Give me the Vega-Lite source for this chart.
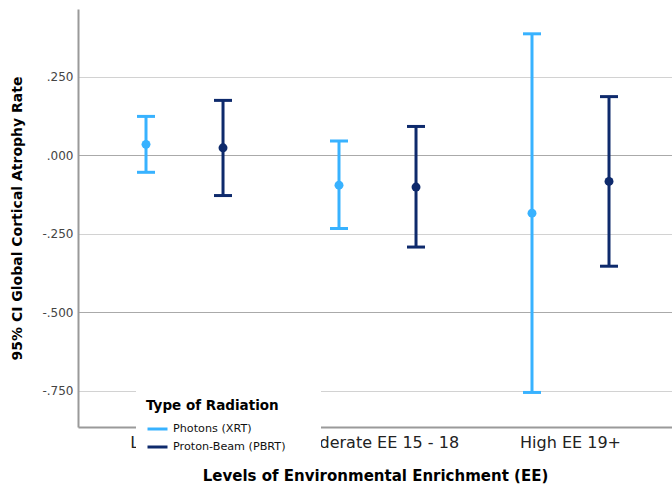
{
  "$schema": "https://vega.github.io/schema/vega-lite/v6.json",
  "width": 594,
  "height": 418,
  "autosize": {"type": "none"},
  "padding": {"left": 78, "top": 9, "right": 0, "bottom": 58},
  "background": "white",
  "config": {
    "view": {"stroke": null},
    "font": "DejaVu Sans",
    "axisY": {
      "domainColor": "#9a9a9a",
      "domainWidth": 2,
      "ticks": false,
      "labelFont": "DejaVu Sans",
      "labelFontSize": 12,
      "labelColor": "#444444",
      "labelPadding": 5,
      "titleFont": "DejaVu Sans",
      "titleFontSize": 14,
      "titleFontWeight": "bold",
      "titleColor": "#000000",
      "titleX": -61,
      "titleY": 209,
      "titleAngle": -90,
      "titleBaseline": "middle",
      "titleAlign": "center"
    },
    "axisX": {
      "domainColor": "#9a9a9a",
      "domainWidth": 2,
      "ticks": false,
      "grid": false,
      "labelAngle": 0,
      "labelFont": "DejaVu Sans",
      "labelFontSize": 16,
      "labelColor": "#222222",
      "labelPadding": 7,
      "titleFont": "DejaVu Sans",
      "titleFontSize": 15,
      "titleFontWeight": "bold",
      "titleColor": "#000000",
      "titleY": 48,
      "titleBaseline": "middle"
    }
  },
  "data": {
    "values": [
      {"level": "Low EE 0 - 14", "radiation": "Photons (XRT)", "mean": 0.034, "lower": -0.055, "upper": 0.123},
      {"level": "Low EE 0 - 14", "radiation": "Proton-Beam (PBRT)", "mean": 0.023, "lower": -0.129, "upper": 0.174},
      {"level": "Moderate EE 15 - 18", "radiation": "Photons (XRT)", "mean": -0.096, "lower": -0.234, "upper": 0.045},
      {"level": "Moderate EE 15 - 18", "radiation": "Proton-Beam (PBRT)", "mean": -0.102, "lower": -0.293, "upper": 0.091},
      {"level": "High EE 19+", "radiation": "Photons (XRT)", "mean": -0.185, "lower": -0.756, "upper": 0.386},
      {"level": "High EE 19+", "radiation": "Proton-Beam (PBRT)", "mean": -0.084, "lower": -0.354, "upper": 0.186}
    ]
  },
  "encoding": {
    "x": {
      "field": "level",
      "type": "nominal",
      "sort": ["Low EE 0 - 14", "Moderate EE 15 - 18", "High EE 19+"],
      "scale": {"paddingInner": 0, "paddingOuter": 0.0389, "align": 0.667},
      "title": "Levels of Environmental Enrichment (EE)"
    },
    "xOffset": {
      "field": "radiation",
      "type": "nominal",
      "sort": ["Photons (XRT)", "Proton-Beam (PBRT)"],
      "scale": {"paddingInner": 0, "paddingOuter": 0.253}
    }
  },
  "layer": [
    {
      "mark": {"type": "rule", "strokeWidth": 3},
      "encoding": {
        "y": {
          "field": "lower", "type": "quantitative",
          "scale": {"domain": [-0.866, 0.465], "nice": false, "zero": false},
          "title": "95% CI Global Cortical Atrophy Rate",
          "axis": {
            "values": [-0.75, -0.5, -0.25, 0, 0.25],
            "labelExpr": "replace(replace(format(datum.value, '.3f'), '0.', '.'), '\u2212', '-')",
            "gridColor": {"condition": {"test": "datum.value === 0 || datum.value === -0.5", "value": "#aaaaaa"}, "value": "#d2d2d2"},
            "gridWidth": 1.2
          }
        },
        "y2": {"field": "upper"},
        "color": {
          "field": "radiation", "type": "nominal",
          "scale": {"domain": ["Photons (XRT)", "Proton-Beam (PBRT)"], "range": ["#38b2ff", "#0e2a6c"]},
          "legend": {
            "title": "Type of Radiation",
            "orient": "none",
            "legendX": 58,
            "legendY": 380,
            "fillColor": "white",
            "padding": 10,
            "titleFont": "DejaVu Sans",
            "titleFontSize": 13.5,
            "titleFontWeight": "bold",
            "titleColor": "#000000",
            "titlePadding": 5,
            "labelFont": "DejaVu Sans",
            "labelFontSize": 11.2,
            "labelColor": "#111111",
            "labelOffset": 4,
            "labelExpr": "datum.label + '\u2800\u2800\u2800'",
            "symbolType": "stroke",
            "symbolSize": 400,
            "symbolStrokeWidth": 3,
            "rowPadding": -12
          }
        }
      }
    },
    {
      "mark": {"type": "tick", "thickness": 3, "size": 18, "opacity": 1},
      "encoding": {
        "y": {"field": "upper", "type": "quantitative", "scale": {"domain": [-0.866, 0.465], "nice": false, "zero": false}, "title": "95% CI Global Cortical Atrophy Rate"},
        "color": {"field": "radiation", "type": "nominal", "legend": null}
      }
    },
    {
      "mark": {"type": "tick", "thickness": 3, "size": 18, "opacity": 1},
      "encoding": {
        "y": {"field": "lower", "type": "quantitative", "scale": {"domain": [-0.866, 0.465], "nice": false, "zero": false}, "title": "95% CI Global Cortical Atrophy Rate"},
        "color": {"field": "radiation", "type": "nominal", "legend": null}
      }
    },
    {
      "mark": {"type": "point", "filled": true, "size": 80, "opacity": 1},
      "encoding": {
        "y": {"field": "mean", "type": "quantitative", "scale": {"domain": [-0.866, 0.465], "nice": false, "zero": false}, "title": "95% CI Global Cortical Atrophy Rate"},
        "color": {"field": "radiation", "type": "nominal", "legend": null}
      }
    }
  ]
}
